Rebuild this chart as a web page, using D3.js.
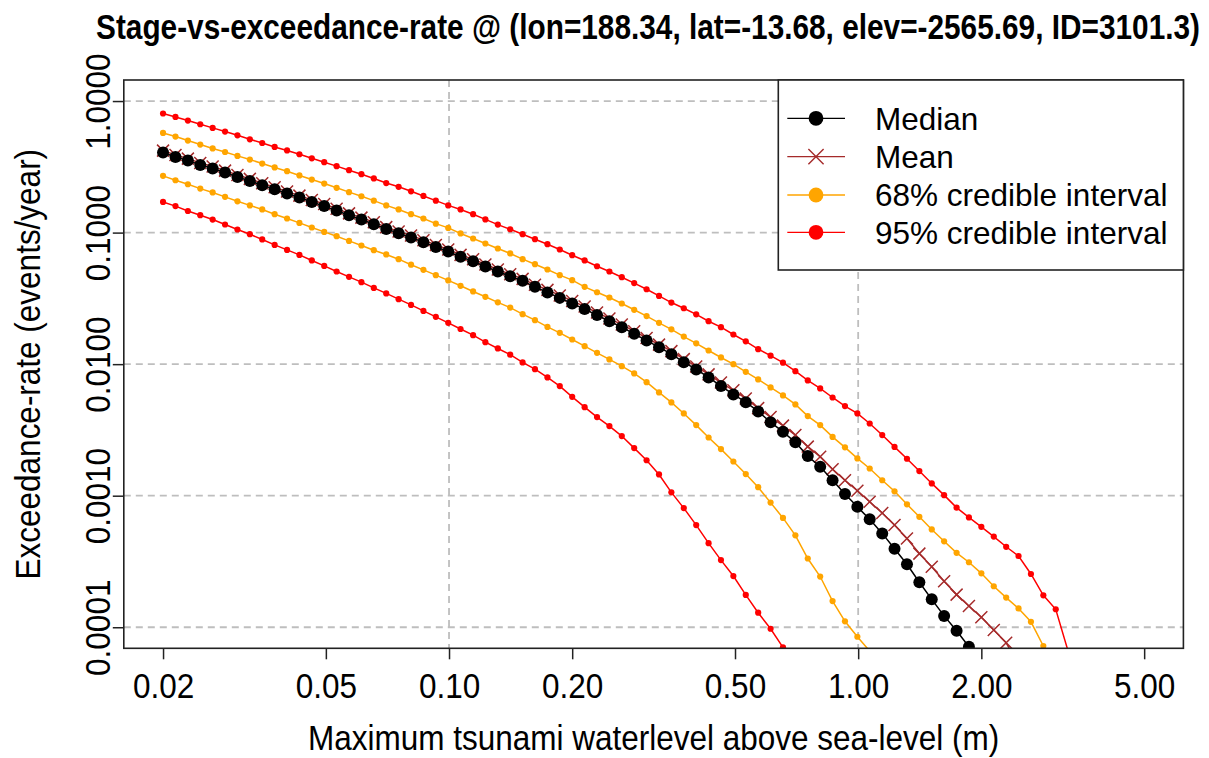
<!DOCTYPE html>
<html>
<head>
<meta charset="utf-8">
<script src="https://cdn.jsdelivr.net/npm/d3@7"></script>
<style>
  html, body { margin: 0; padding: 0; background: #fff; }
  svg { display: block; font-family: "Liberation Sans", Arial, Helvetica, sans-serif; }
</style>
</head>
<body>
<svg id="chart" width="1209" height="758"></svg>
<script>
// Stage grid (m), log-spaced
const stages = [0.02, 0.02145, 0.02300, 0.02466, 0.02644, 0.02835, 0.03040, 0.03260, 0.03495, 0.03748,
  0.04019, 0.04309, 0.04620, 0.04954, 0.05312, 0.05696, 0.06108, 0.06549, 0.07023, 0.07530,
  0.08075, 0.08658, 0.09284, 0.09955, 0.1067, 0.1145, 0.1227, 0.1316, 0.1411, 0.1513,
  0.1622, 0.1740, 0.1865, 0.2000, 0.2145, 0.2300, 0.2466, 0.2644, 0.2835, 0.3040,
  0.3260, 0.3495, 0.3748, 0.4019, 0.4309, 0.4620, 0.4954, 0.5312, 0.5696, 0.6108,
  0.6549, 0.7023, 0.7530, 0.8075, 0.8658, 0.9284, 0.9955, 1.067, 1.145, 1.227,
  1.316, 1.411, 1.513, 1.622, 1.740, 1.865, 2.000, 2.145, 2.300, 2.466,
  2.644, 2.835, 3.040, 3.260];

// Exceedance rates (events/year) at each stage
const ci95Upper = [0.804, 0.757, 0.711, 0.666, 0.625, 0.586, 0.549, 0.512, 0.480, 0.448,
  0.421, 0.394, 0.367, 0.343, 0.320, 0.298, 0.278, 0.258, 0.238, 0.223,
  0.206, 0.190, 0.175, 0.161, 0.150, 0.138, 0.126, 0.115, 0.106, 0.0972,
  0.0891, 0.0816, 0.0744, 0.0673, 0.0614, 0.0555, 0.0506, 0.0458, 0.0413, 0.0371,
  0.0330, 0.0294, 0.0266, 0.0239, 0.0212, 0.0191, 0.0168, 0.0149, 0.0130, 0.0116,
  0.01026, 0.00885, 0.00752, 0.00654, 0.00558, 0.00480, 0.00422, 0.00354, 0.00289, 0.00235,
  0.00191, 0.00154, 0.00124, 0.00101, 0.000812, 0.000684, 0.000580, 0.000489, 0.000409, 0.000348,
  0.000254, 0.000175, 0.000137, 0.0000656];

const ci68Upper = [0.572, 0.537, 0.501, 0.467, 0.436, 0.410, 0.383, 0.359, 0.335, 0.313,
  0.293, 0.272, 0.253, 0.236, 0.219, 0.203, 0.189, 0.175, 0.161, 0.150,
  0.138, 0.128, 0.117, 0.1086, 0.0985, 0.0902, 0.0826, 0.0757, 0.0694, 0.0628,
  0.0575, 0.0524, 0.0475, 0.0435, 0.0387, 0.0352, 0.0321, 0.0289, 0.0259, 0.0232,
  0.0206, 0.0184, 0.0162, 0.0144, 0.0127, 0.01124, 0.0100, 0.00874, 0.00765, 0.00665,
  0.00578, 0.00494, 0.00403, 0.00344, 0.00280, 0.00233, 0.00192, 0.00161, 0.00131, 0.00108,
  0.000860, 0.000691, 0.000554, 0.000450, 0.000368, 0.000312, 0.000257, 0.000205, 0.000168, 0.000139,
  0.000110, 0.0000720];

const medianRate = [0.406, 0.376, 0.353, 0.327, 0.307, 0.286, 0.265, 0.247, 0.229, 0.214,
  0.198, 0.185, 0.171, 0.159, 0.147, 0.1356, 0.1257, 0.1158, 0.1067, 0.0989,
  0.0918, 0.0846, 0.0778, 0.0718, 0.0654, 0.0606, 0.0553, 0.0506, 0.0466, 0.0430,
  0.0387, 0.0351, 0.0319, 0.0289, 0.0262, 0.0236, 0.0212, 0.0191, 0.0170, 0.0151,
  0.01346, 0.0119, 0.01035, 0.00911, 0.00792, 0.00681, 0.00589, 0.00514, 0.00437, 0.00362,
  0.00306, 0.00255, 0.00200, 0.00166, 0.00131, 0.00103, 0.000823, 0.000661, 0.000517, 0.000395,
  0.000301, 0.000220, 0.000163, 0.000122, 0.0000940, 0.0000711, 0.0000535];

const meanRate = [0.420, 0.389, 0.365, 0.338, 0.318, 0.296, 0.274, 0.256, 0.237, 0.221,
  0.205, 0.191, 0.177, 0.165, 0.152, 0.140, 0.130, 0.120, 0.110, 0.102,
  0.0950, 0.0876, 0.0805, 0.0743, 0.0677, 0.0627, 0.0572, 0.0524, 0.0482, 0.0445,
  0.0401, 0.0367, 0.0333, 0.0302, 0.0274, 0.0247, 0.0222, 0.0200, 0.0178, 0.0158,
  0.01407, 0.01256, 0.01092, 0.00961, 0.00836, 0.00725, 0.00633, 0.00549, 0.00463, 0.00396,
  0.00341, 0.00289, 0.00236, 0.00198, 0.00159, 0.00131, 0.00109, 0.000899, 0.000738, 0.000598,
  0.000472, 0.000363, 0.000288, 0.000224, 0.000177, 0.000145, 0.000119, 0.0000952, 0.0000762, 0.0000516];

const ci68Lower = [0.270, 0.250, 0.233, 0.216, 0.202, 0.187, 0.173, 0.161, 0.150, 0.138,
  0.128, 0.1185, 0.1093, 0.1012, 0.0939, 0.0865, 0.0798, 0.0735, 0.0682, 0.0628,
  0.0570, 0.0521, 0.0475, 0.0433, 0.0394, 0.0357, 0.0325, 0.0295, 0.0269, 0.0240,
  0.0216, 0.0192, 0.0173, 0.0154, 0.0137, 0.0122, 0.01086, 0.00966, 0.00850, 0.00730,
  0.00610, 0.00512, 0.00422, 0.00344, 0.00277, 0.00226, 0.00182, 0.00146, 0.00116, 0.000886,
  0.000678, 0.000500, 0.000333, 0.000243, 0.000158, 0.000111, 0.0000847, 0.0000659];

const ci95Lower = [0.171, 0.159, 0.146, 0.1356, 0.1257, 0.1152, 0.1056, 0.0972, 0.0887, 0.0806,
  0.0739, 0.0677, 0.0614, 0.0558, 0.0506, 0.0461, 0.0420, 0.0380, 0.0345, 0.0312,
  0.0282, 0.0254, 0.0229, 0.0206, 0.0185, 0.0166, 0.0147, 0.01316, 0.01181, 0.0103,
  0.00916, 0.00792, 0.00681, 0.00564, 0.00471, 0.00396, 0.00338, 0.00284, 0.00230, 0.00186,
  0.00145, 0.00106, 0.000805, 0.000598, 0.000436, 0.000324, 0.000245, 0.000176, 0.000129, 0.0000974,
  0.0000704, 0.0000490];

// Axis limits and ticks
const xLimits = [0.02, 5];
const yLimits = [0.0001, 1];
const xTicks = [0.02, 0.05, 0.1, 0.2, 0.5, 1, 2, 5];
const xTickLabels = ["0.02", "0.05", "0.10", "0.20", "0.50", "1.00", "2.00", "5.00"];
const yTicks = [0.0001, 0.001, 0.01, 0.1, 1];
const yTickLabels = ["0.0001", "0.0010", "0.0100", "0.1000", "1.0000"];
const xGrid = [0.1, 1];

const legendLabels = ["Median", "Mean", "68% credible interval", "95% credible interval"];

const titleText = "Stage-vs-exceedance-rate @ (lon=188.34, lat=-13.68, elev=-2565.69, ID=3101.3)";
const xLabel = "Maximum tsunami waterlevel above sea-level (m)";
const yLabel = "Exceedance-rate (events/year)";

// ---- layout ----
const plot = { left: 123.8, right: 1183.4, top: 80, bottom: 648.3 };
const fs = 31.5;          // text size
const tallAxis = 1.143;   // vertical stretch of axis lettering
const tallTitle = 1.158;  // vertical stretch of the title

const svg = d3.select("#chart");

// log scales padded by 4% on each side of the limits
const xPad = Math.pow(xLimits[1] / xLimits[0], 0.04);
const yPad = Math.pow(yLimits[1] / yLimits[0], 0.04);
const x = d3.scaleLog().domain([xLimits[0] / xPad, xLimits[1] * xPad]).range([plot.left, plot.right]);
const y = d3.scaleLog().domain([yLimits[0] / yPad, yLimits[1] * yPad]).range([plot.bottom, plot.top]);

svg.append("rect").attr("width", 1209).attr("height", 758).attr("fill", "#fff");

svg.append("defs").append("clipPath").attr("id", "plotClip")
  .append("rect")
  .attr("x", plot.left).attr("y", plot.top)
  .attr("width", plot.right - plot.left).attr("height", plot.bottom - plot.top);

// grid
const grid = svg.append("g")
  .attr("stroke", "#bebebe").attr("stroke-width", 1.8).attr("stroke-dasharray", "7,5");
grid.selectAll("line.h").data(yTicks).join("line").attr("class", "h")
  .attr("x1", plot.left).attr("x2", plot.right)
  .attr("y1", d => y(d)).attr("y2", d => y(d));
grid.selectAll("line.v").data(xGrid).join("line").attr("class", "v")
  .attr("y1", plot.top).attr("y2", plot.bottom)
  .attr("x1", d => x(d)).attr("x2", d => x(d));

// series
const series = [
  { values: ci95Lower, color: "#ff0000", kind: "dot", r: 3.1, width: 1.5 },
  { values: ci95Upper, color: "#ff0000", kind: "dot", r: 3.1, width: 1.5 },
  { values: ci68Lower, color: "#ffa500", kind: "dot", r: 3.1, width: 1.5 },
  { values: ci68Upper, color: "#ffa500", kind: "dot", r: 3.1, width: 1.5 },
  { values: meanRate, color: "#a52a2a", kind: "cross", r: 6, width: 1.5 },
  { values: medianRate, color: "#000000", kind: "dot", r: 6, width: 1.5 }
];

const line = d3.line().x(d => x(d[0])).y(d => y(d[1]));
const body = svg.append("g").attr("clip-path", "url(#plotClip)");

series.forEach(s => {
  const pts = s.values.map((v, i) => [stages[i], v]);
  const g = body.append("g");
  g.append("path").datum(pts)
    .attr("d", line).attr("fill", "none")
    .attr("stroke", s.color).attr("stroke-width", s.width);
  if (s.kind === "dot") {
    g.selectAll("circle").data(pts).join("circle")
      .attr("cx", d => x(d[0])).attr("cy", d => y(d[1]))
      .attr("r", s.r).attr("fill", s.color);
  } else {
    const h = s.r;
    g.selectAll("path.x").data(pts).join("path").attr("class", "x")
      .attr("d", d => {
        const cx = x(d[0]), cy = y(d[1]);
        return `M${cx - h},${cy - h}L${cx + h},${cy + h}M${cx - h},${cy + h}L${cx + h},${cy - h}`;
      })
      .attr("stroke", s.color).attr("stroke-width", s.width).attr("fill", "none");
  }
});

// axes
const xAxis = d3.axisBottom(x).tickValues(xTicks)
  .tickFormat((d, i) => xTickLabels[i]).tickSize(11);
const gx = svg.append("g").attr("transform", `translate(0,${plot.bottom})`).call(xAxis);
gx.select(".domain").remove();
gx.selectAll(".tick line").attr("stroke", "#222").attr("stroke-width", 1.5);
gx.selectAll(".tick text").attr("fill", "#000").attr("font-size", fs)
  .attr("font-family", "Liberation Sans, Arial, sans-serif")
  .attr("y", 0).attr("dy", 0)
  .attr("transform", `translate(0,49.5) scale(1,${tallAxis})`);

const yAxis = d3.axisLeft(y).tickValues(yTicks)
  .tickFormat((d, i) => yTickLabels[i]).tickSize(11);
const gy = svg.append("g").attr("transform", `translate(${plot.left},0)`).call(yAxis);
gy.select(".domain").remove();
gy.selectAll(".tick line").attr("stroke", "#222").attr("stroke-width", 1.5);
gy.selectAll(".tick text")
  .attr("fill", "#000").attr("font-size", fs)
  .attr("font-family", "Liberation Sans, Arial, sans-serif")
  .attr("text-anchor", "middle")
  .attr("x", 0).attr("y", 0).attr("dy", 0)
  .attr("transform", `rotate(-90) translate(0,-14.3) scale(1,${tallAxis})`);

// frame
svg.append("rect")
  .attr("x", plot.left).attr("y", plot.top)
  .attr("width", plot.right - plot.left).attr("height", plot.bottom - plot.top)
  .attr("fill", "none").attr("stroke", "#222").attr("stroke-width", 1.6);

// titles
svg.append("text")
  .attr("transform", `translate(648,38.5) scale(1,${tallTitle})`)
  .attr("text-anchor", "middle").attr("font-weight", "bold").attr("font-size", 29.8)
  .text(titleText);

svg.append("text")
  .attr("transform", `translate(${(plot.left + plot.right) / 2},750.3) scale(1,${tallAxis})`)
  .attr("text-anchor", "middle").attr("font-size", fs)
  .text(xLabel);

svg.append("text")
  .attr("transform", `translate(40,${(plot.top + plot.bottom) / 2}) rotate(-90) scale(1,${tallAxis})`)
  .attr("text-anchor", "middle").attr("font-size", fs)
  .text(yLabel);

// legend
const legend = { left: 778.3, right: 1183.4, top: 80, bottom: 270 };
const legendRows = [118.3, 156.7, 195, 232.3];
const legendStyle = [
  { color: "#000000", kind: "dot" },
  { color: "#a52a2a", kind: "cross" },
  { color: "#ffa500", kind: "dot" },
  { color: "#ff0000", kind: "dot" }
];
const lg = svg.append("g");
lg.append("rect")
  .attr("x", legend.left).attr("y", legend.top)
  .attr("width", legend.right - legend.left).attr("height", legend.bottom - legend.top)
  .attr("fill", "#fff").attr("stroke", "#222").attr("stroke-width", 1.6);

legendLabels.forEach((lab, i) => {
  const cy = legendRows[i];
  const st = legendStyle[i];
  lg.append("line").attr("x1", 787.3).attr("x2", 845).attr("y1", cy).attr("y2", cy)
    .attr("stroke", st.color).attr("stroke-width", 1.3);
  if (st.kind === "dot") {
    lg.append("circle").attr("cx", 816).attr("cy", cy).attr("r", 7.4).attr("fill", st.color);
  } else {
    const h = 7.6;
    lg.append("path")
      .attr("d", `M${816 - h},${cy - h}L${816 + h},${cy + h}M${816 - h},${cy + h}L${816 + h},${cy - h}`)
      .attr("stroke", st.color).attr("stroke-width", 1.4).attr("fill", "none");
  }
  lg.append("text").attr("x", 875).attr("y", cy).attr("dy", "0.36em")
    .attr("font-size", fs).attr("fill", "#000").text(lab);
});
</script>
</body>
</html>
